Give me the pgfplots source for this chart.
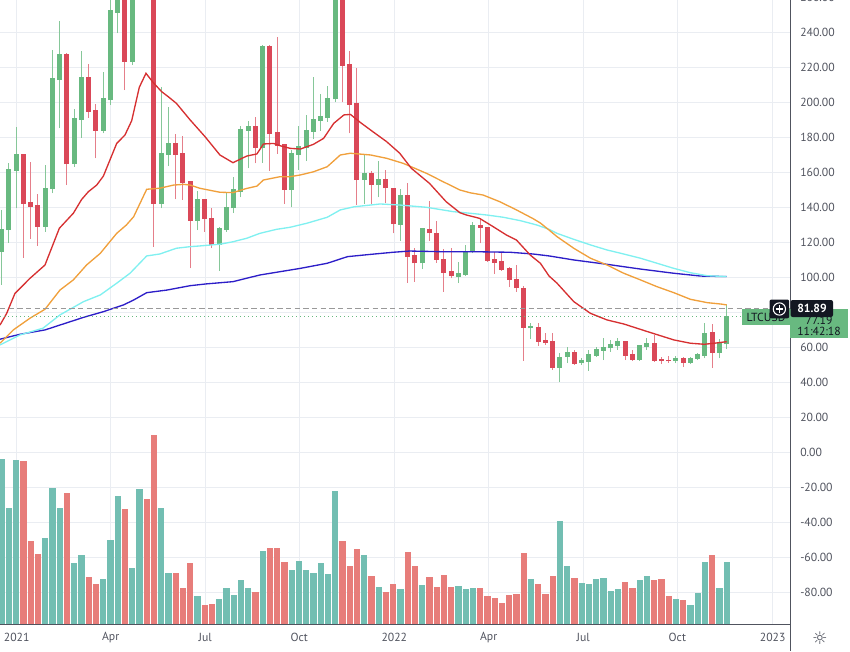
\documentclass[border=0pt]{standalone}
\usepackage{pgfplots}
\pgfplotsset{compat=1.18}
\usepackage{pgfplotstable}
\usepackage{fontspec}
\setmainfont{PT Sans}
\newfontfamily\symf{DejaVu Sans}
\definecolor{cg}{RGB}{104,185,128}
\definecolor{cr}{RGB}{218,72,88}
\definecolor{vg}{RGB}{114,190,178}
\definecolor{vr}{RGB}{231,125,122}
\definecolor{mar}{RGB}{214,48,49}
\definecolor{mao}{RGB}{240,160,60}
\definecolor{mac}{RGB}{128,240,240}
\definecolor{mab}{RGB}{45,30,200}
\definecolor{gridc}{RGB}{234,237,242}
\definecolor{axc}{RGB}{80,83,94}
\definecolor{txt}{RGB}{80,83,94}
\definecolor{lblk}{RGB}{19,23,34}

\pgfplotstableread{
i o h l c
1 114.3 138.4 95.6 127.4
2 127.0 165.1 119.8 161.3
3 160.9 186.1 139.4 169.9
7 128.9 164.2 126.1 150.5
8 150.5 230.2 148.0 213.3
9 212.7 246.5 185.1 227.0
11 164.7 196.2 163.2 190.5
12 189.9 229.3 179.8 213.9
15 183.8 217.5 182.3 201.9
16 201.3 275 198.5 252.2
17 251.2 300 239.4 285
19 223.2 300 221.3 280
20 280 360 270 345
23 141.9 208.6 139.4 170.5
24 169.9 197.1 163.6 176.2
28 132.4 149.5 127.0 144.5
31 118.5 128.9 103.8 127.6
32 127.0 148.9 126.0 140.0
33 139.4 157.5 136.6 149.9
34 148.9 186.5 145.7 184.2
35 183.8 189.5 162.3 185.9
37 174.1 232.8 165.5 231.8
41 149.9 172.7 140.0 170.5
42 169.9 186.5 161.3 174.7
43 174.1 192.8 166.4 183.6
44 183.2 214.6 178.8 189.9
45 189.5 204.8 183.8 191.8
46 191.2 209.3 188.9 201.9
47 201.7 295 200.0 275
51 155.6 170.5 141.9 159.0
53 152.7 166.6 145.7 155.6
56 129.9 150.3 120.9 146.4
59 108.0 128.2 104.6 127.8
64 100.4 108.9 96.6 101.9
65 101.3 118.5 100.7 114.7
66 114.7 131.8 113.7 129.3
74 70.8 74.1 64.6 71.5
78 48.0 56.6 40.3 54.3
79 54.3 60.3 50.9 56.9
81 50.9 53.7 49.9 52.3
82 51.8 58.5 46.6 55.6
83 55.2 60.3 54.6 58.5
84 58.1 65.1 52.7 59.8
85 59.4 64.2 57.5 61.3
86 60.9 65.1 58.5 63.0
89 52.7 61.3 52.3 60.7
90 60.3 65.1 58.5 62.3
94 52.0 55.0 50.9 53.7
96 51.2 54.3 50.5 53.7
97 53.3 56.6 52.7 55.6
98 55.0 73.7 53.7 68.0
100 56.9 64.6 53.7 62.3
101 61.7 84.2 59.0 77.3
}\greenc

\pgfplotstableread{
i o h l c
4 169.9 170.5 111.2 141.9
5 142.6 165.7 122.1 140.3
6 140.7 147.4 118.1 128.9
10 227.0 228.0 152.7 164.7
13 213.9 221.9 191.2 194.7
14 195.0 199.0 168.0 183.8
18 285 300 207.0 223.2
21 345 412 262 300
22 300 310 117.5 141.9
25 176.2 181.7 144.5 169.9
26 170.5 180.7 144.2 154.1
27 154.4 155.0 105.1 132.4
29 144.5 145.0 126.1 133.3
30 133.7 139.4 116.6 118.5
36 185.9 191.4 165.1 174.1
38 231.8 232.5 160.9 181.9
39 182.6 237.5 170.5 175.2
40 175.6 176.0 141.9 149.9
48 275 280 200.0 220.9
49 221.3 229.3 182.3 198.5
50 199.4 219.4 141.3 155.6
52 159.0 160.9 141.9 152.7
54 155.6 161.3 142.3 150.8
55 150.8 151.0 125.1 130.4
57 146.4 153.7 96.9 111.8
58 112.2 116.6 97.5 108.0
60 127.4 143.8 120.9 125.1
61 125.1 132.4 108.4 109.9
62 110.3 116.0 91.8 102.6
63 103.0 116.6 99.4 100.7
67 129.3 133.7 119.4 128.2
68 128.5 129.0 108.9 109.5
69 110.3 114.7 101.9 108.4
70 108.7 114.7 103.8 104.2
71 105.1 106.0 94.3 98.5
72 98.8 107.0 91.8 93.7
73 93.7 95.0 52.4 71.2
75 71.4 74.1 60.6 63.2
76 63.8 68.4 61.5 62.7
77 63.2 68.4 47.0 48.0
80 56.9 58.5 49.9 50.5
87 63.0 63.5 52.7 55.0
88 55.6 58.5 52.3 52.7
91 62.3 67.0 51.8 52.3
92 52.7 54.6 50.5 52.0
93 52.5 55.2 50.9 51.9
95 53.7 54.6 48.6 51.2
99 68.4 73.3 48.0 56.9
}\redc

\pgfplotstableread{
i v
1 -3.85
2 -32.1
3 -4.4
7 -48.8
8 -20.6
9 -32.1
11 -63.3
12 -58.7
15 -72.5
16 -50.0
17 -25.2
19 -66.2
20 -21.2
23 -32.1
24 -69.0
28 -82.3
31 -84.0
32 -77.7
33 -81.7
34 -73.1
35 -77.7
37 -56.3
41 -67.3
42 -62.1
43 -67.3
44 -69.0
45 -63.3
46 -69.6
47 -22.3
51 -58.7
53 -77.1
56 -78.3
59 -76.0
64 -76.5
65 -78.3
66 -77.7
74 -72.5
78 -39.6
79 -65.0
81 -74.8
82 -75.4
83 -72.5
84 -71.9
85 -79.4
86 -78.3
89 -73.1
90 -70.8
94 -84.0
96 -87.5
97 -80.6
98 -62.7
100 -77.7
101 -62.7
}\volg

\pgfplotstableread{
i v
4 -5.0
5 -50.6
6 -58.1
10 -23.5
13 -71.3
14 -75.4
18 -32.7
21 -26.9
22 10.0
25 -69.0
26 -77.7
27 -63.3
29 -87.5
30 -86.9
36 -80.0
38 -54.6
39 -54.6
40 -62.7
48 -50.6
49 -65.0
50 -55.2
52 -70.8
54 -80.0
55 -75.4
57 -56.9
58 -65.0
60 -71.3
61 -77.1
62 -70.2
63 -77.1
67 -77.7
68 -82.3
69 -83.5
70 -86.3
71 -81.7
72 -81.2
73 -57.5
75 -75.4
76 -81.2
77 -70.8
80 -71.9
87 -74.2
88 -77.7
91 -73.1
92 -72.5
93 -82.3
95 -84.6
99 -58.7
}\volr

\pgfplotstableread{
i v
0.77 72.7
1.69 79.4
2.83 90.8
4.9 99.4
6.97 107.0
8.95 128.0
10.88 136.6
12.03 144.5
12.95 148.9
14.1 152.7
15.02 157.8
16.86 176.5
18.0 181.3
18.93 189.5
19.98 208.6
20.9 216.6
21.9 211.3
23.06 206.1
23.98 203.2
25.1 199.4
27.0 189.9
29.04 180.4
31.1 169.9
32.9 165.5
34.8 169.3
36.2 170.5
37.1 176.2
38.5 176.5
39.4 175.2
40.8 173.7
42.2 173.3
44.0 176.0
45.4 179.4
46.8 188.0
48.2 192.8
49.1 193.1
50.5 188.4
52.2 183.2
54.1 177.5
55.9 170.9
57.5 162.3
60.0 153.7
62.3 143.2
64.2 136.9
65.1 135.6
66.9 133.7
68.8 128.9
70.6 124.2
72.0 121.3
73.9 112.7
75.3 108.0
76.5 100.7
77.6 96.6
79.9 86.1
82.2 79.4
84.5 75.6
86.8 73.3
90.1 68.9
93.7 64.2
96.0 62.3
97.9 61.7
99.3 62.3
101.0 63.2
}\mared

\pgfplotstableread{
i v
0.77 62.3
2.6 69.9
4.9 76.6
6.97 81.7
9.04 92.7
10.88 98.5
12.7 107.0
14.6 113.7
16.86 125.1
18.2 129.9
19.2 134.6
21.0 150.3
22.8 150.9
24.7 152.7
26.1 153.1
27.0 152.7
28.3 150.9
31.1 148.6
32.9 148.4
34.8 150.8
36.2 152.1
37.1 155.6
39.4 157.5
40.8 157.5
42.2 158.5
44.0 160.3
45.9 163.2
47.7 169.9
49.1 170.9
51.9 169.9
54.1 168.0
56.4 165.1
59.6 159.4
61.9 154.6
64.2 149.9
65.6 148.3
67.4 147.0
69.7 143.2
72.0 138.5
74.3 133.5
75.3 131.0
76.5 127.0
77.6 123.2
79.9 116.6
82.2 110.9
84.5 107.0
86.8 102.3
89.1 98.5
91.4 94.6
93.7 91.2
96.0 87.4
98.3 85.5
100.2 84.7
101.0 84.2
}\maorange

\pgfplotstableread{
i v
0.77 61.3
3.5 67.0
6.7 70.9
9.04 78.5
12.3 86.1
14.6 89.9
16.86 96.6
18.7 102.3
21.0 112.2
22.8 113.3
25.1 116.6
27.0 117.5
28.3 117.9
31.1 118.9
32.9 120.3
34.8 122.3
36.6 125.1
38.9 127.4
40.8 128.6
43.1 130.9
45.9 134.3
47.7 138.5
49.6 140.3
51.9 141.3
53.2 141.9
55.9 141.3
59.6 140.0
63.3 137.5
65.6 136.6
67.9 135.6
70.2 134.3
72.5 132.4
74.8 129.9
76.5 127.4
77.6 125.1
79.9 121.7
82.2 118.5
84.5 115.6
86.8 113.3
89.1 110.9
91.4 108.0
93.7 105.1
96.0 102.6
98.3 100.9
101.0 100.4
}\macyan

\pgfplotstableread{
i v
0.77 64.6
3.5 67.4
6.97 69.9
9.04 72.7
12.3 77.1
15.0 80.3
17.8 84.2
19.2 87.0
21.0 91.2
23.8 92.7
27.0 95.2
29.2 96.2
32.9 97.5
36.6 101.3
39.4 103.2
42.2 105.1
45.9 108.0
48.7 111.8
51.9 113.1
55.0 114.3
57.3 115.0
61.9 114.6
66.5 114.6
71.1 114.3
74.3 113.3
76.5 112.2
79.9 109.9
84.5 107.4
89.1 104.7
93.7 102.3
97.4 100.7
101.0 100.4
}\mablue

\begin{document}
\begin{tikzpicture}
\begin{axis}[
  at={(0,0)}, anchor=south west,
  scale only axis, width=592.5pt, height=468pt,
  xmin=0.766, xmax=109.73, ymin=-98.2, ymax=258.5,
  axis x line*=bottom, axis y line*=right,
  axis line style={draw=axc, line width=0.75pt, -},
  major tick length=0pt,
  xtick={3.07,16.03,29.08,42.05,55.15,68.17,81.22,94.19,107.34},
  xticklabels={2021,Apr,Jul,Oct,2022,Apr,Jul,Oct,2023},
  ytick={-80,-60,...,240},
  grid=major, major grid style={draw=gridc, line width=0.75pt},
  tick label style={font=\fontsize{8.8}{10}\selectfont, text=txt},
  yticklabel style={anchor=west, inner sep=0pt, xshift=7.5pt,
    /pgf/number format/.cd, fixed, fixed zerofill, precision=2, assume math mode=true},
  xticklabel style={anchor=center, inner sep=0pt, yshift=-9.75pt},
]
% volume
\addplot[draw=none, mark=none, error bars/.cd, y dir=plus, y explicit, error mark=none,
  error bar style={draw=vg, solid, line width=4.6pt}]
  table[x=i, y expr=-98.2, y error plus expr=\thisrow{v}+98.2] {\volg};
\addplot[draw=none, mark=none, error bars/.cd, y dir=plus, y explicit, error mark=none,
  error bar style={draw=vr, solid, line width=4.6pt}]
  table[x=i, y expr=-98.2, y error plus expr=\thisrow{v}+98.2] {\volr};
% wicks
\addplot[draw=none, mark=none, error bars/.cd, y dir=plus, y explicit, error mark=none,
  error bar style={draw=cg!80, solid, line width=0.75pt}]
  table[x=i, y=l, y error plus expr=\thisrow{h}-\thisrow{l}] {\greenc};
\addplot[draw=none, mark=none, error bars/.cd, y dir=plus, y explicit, error mark=none,
  error bar style={draw=cr!70, solid, line width=0.75pt}]
  table[x=i, y=l, y error plus expr=\thisrow{h}-\thisrow{l}] {\redc};
% bodies
\addplot[draw=none, mark=none, error bars/.cd, y dir=plus, y explicit, error mark=none,
  error bar style={draw=cg, solid, line width=3.75pt}]
  table[x=i, y=o, y error plus expr=\thisrow{c}-\thisrow{o}+0.4] {\greenc};
\addplot[draw=none, mark=none, error bars/.cd, y dir=plus, y explicit, error mark=none,
  error bar style={draw=cr, solid, line width=3.75pt}]
  table[x=i, y=c, y error plus expr=\thisrow{o}-\thisrow{c}+0.4] {\redc};
% moving averages
\addplot[mab, line width=1pt, mark=none] table[x=i, y=v] {\mablue};
\addplot[mac, line width=1pt, mark=none] table[x=i, y=v] {\macyan};
\addplot[mao, line width=1pt, mark=none] table[x=i, y=v] {\maorange};
\addplot[mar, line width=1pt, mark=none] table[x=i, y=v] {\mared};
% price lines
\addplot[gray!80, line width=0.75pt, dash pattern=on 4pt off 2.5pt, mark=none] coordinates {(0.766,81.89) (109.73,81.89)};
\addplot[cg, line width=0.75pt, dash pattern=on 0.75pt off 2.25pt, mark=none] coordinates {(0.766,77.3) (109.73,77.3)};
\end{axis}
\begin{scope}[shift={(0pt,468pt)}, x=0.75pt, y=-0.75pt]
  \draw[axc, line width=0.75pt] (790,624) -- (790,651);
  \node[anchor=west, inner sep=0pt, text=txt, font=\fontsize{8.8}{10}\selectfont] at (800,-2.6) {260.00};
  \fill[cg] (742.3,309) rectangle (789.6,325);
  \node[text=lblk, font=\fontsize{8.8}{10}\selectfont] at (766,317) {LTCUSD};
  \fill[cg] (790.4,309) rectangle (848,338);
  \node[text=lblk, font=\fontsize{8.8}{10}\selectfont] at (819,320) {77.19};
  \node[text=lblk, font=\fontsize{8.8}{10}\selectfont] at (819,331) {11:42:18};
  \fill[lblk, rounded corners=1.5pt] (769.5,299.5) rectangle (789.2,318.3);
  \fill[lblk, rounded corners=1.5pt] (790.6,300) rectangle (833,317);
  \draw[white, line width=0.8pt] (779.4,309) circle[radius=4.6pt];
  \draw[white, line width=0.8pt] (775.8,309) -- (783,309) (779.4,305.4) -- (779.4,312.6);
  \node[text=white, font=\bfseries\fontsize{8.8}{10}\selectfont] at (812,308.5) {81.89};
  \node[text=axc, font=\symf\fontsize{13}{14}\selectfont] at (820,638) {☼};
\end{scope}
\pgfresetboundingbox
\path[shift={(0pt,468pt)}, x=0.75pt, y=-0.75pt] (0,0) rectangle (850,651);
\end{tikzpicture}
\end{document}
